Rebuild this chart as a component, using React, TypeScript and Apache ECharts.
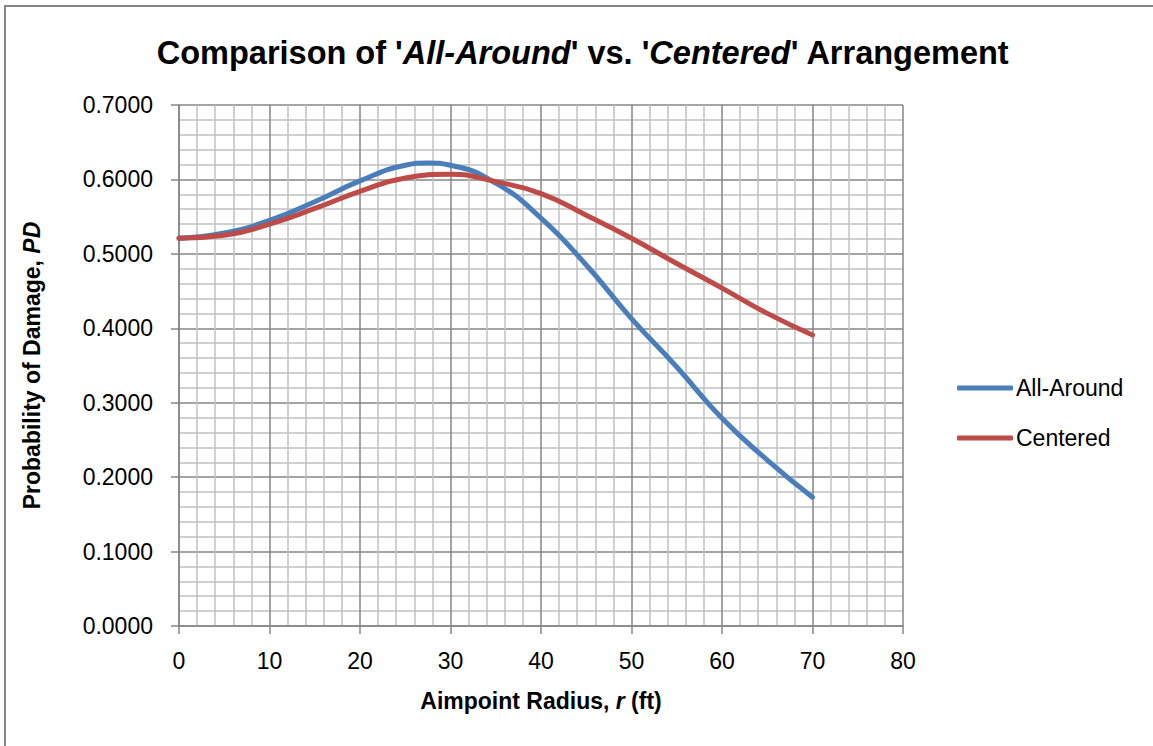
import React, { useEffect, useRef } from "react";
import * as echarts from "echarts";

const radiusA = [0, 5, 10, 15, 20, 25, 27.5, 30, 35, 40, 45, 50, 55, 60, 65, 70];
const allAround = [0.521, 0.528, 0.545, 0.570, 0.598, 0.619, 0.622, 0.619, 0.595, 0.548, 0.485, 0.413, 0.348, 0.279, 0.223, 0.173];
const radiusC = [0, 5, 10, 15, 20, 25, 30, 35, 40, 45, 50, 55, 60, 65, 70];
const centered = [0.521, 0.525, 0.540, 0.561, 0.584, 0.602, 0.607, 0.597, 0.581, 0.552, 0.521, 0.487, 0.454, 0.420, 0.391];
const seriesNames = ["All-Around", "Centered"];
const colors = ["#4a7ebb", "#be4b48"];

const FONT = "Liberation Sans";

export default function App() {
  const ref = useRef<HTMLDivElement>(null);
  useEffect(() => {
    if (!ref.current) return;
    const chart = echarts.init(ref.current, undefined, { renderer: "svg" });
    const toPairs = (xs: number[], vals: number[]) => xs.map((r, i) => [r, vals[i]]);
    chart.setOption({
      animation: false,
      backgroundColor: "#ffffff",
      textStyle: { fontFamily: FONT, color: "#000" },
      graphic: [
        {
          type: "rect",
          shape: { x: 5, y: 6, width: 1170, height: 780 },
          style: { fill: "none", stroke: "#868686", lineWidth: 2 },
          silent: true,
        },
        {
          type: "text",
          x: 583,
          y: 53,
          style: {
            text: "{b|Comparison of '}{bi|All-Around}{b|' vs. '}{bi|Centered}{b|' Arrangement}",
            align: "center",
            verticalAlign: "middle",
            rich: {
              b: { fontFamily: FONT, fontWeight: "bold", fontSize: 32.5, fill: "#000" },
              bi: { fontFamily: FONT, fontWeight: "bold", fontStyle: "italic", fontSize: 32.5, fill: "#000" },
            },
          },
        },
      ],
      legend: {
        orient: "vertical",
        left: 952,
        top: 370,
        itemWidth: 56,
        itemHeight: 5,
        itemGap: 24,
        icon: "roundRect",
        data: seriesNames,
        textStyle: { fontFamily: FONT, fontSize: 23, color: "#000", lineHeight: 26, padding: [0, 0, 0, -2] },
      },
      grid: { left: 179, right: 250, top: 105, bottom: 120, containLabel: false },
      xAxis: {
        type: "value",
        min: 0,
        max: 80,
        interval: 10,
        name: "{b|Aimpoint Radius, }{bi|r}{b| (ft)}",
        nameLocation: "middle",
        nameGap: 63,
        nameTextStyle: {
          rich: {
            b: { fontFamily: FONT, fontWeight: "bold", fontSize: 23, color: "#000" },
            bi: { fontFamily: FONT, fontWeight: "bold", fontStyle: "italic", fontSize: 23, color: "#000" },
          },
        },
        axisLine: { show: true, lineStyle: { color: "#868686", width: 1.5 } },
        axisTick: { show: true, length: 8, lineStyle: { color: "#868686", width: 1.5 } },
        axisLabel: { fontFamily: FONT, fontSize: 23, color: "#000", margin: 23 },
        splitLine: { show: true, lineStyle: { color: "#868686", width: 1.5 } },
        minorTick: { show: false, splitNumber: 5 },
        minorSplitLine: { show: true, lineStyle: { color: "#c0c0c0", width: 1.5 } },
      },
      yAxis: {
        type: "value",
        min: 0,
        max: 0.7,
        interval: 0.1,
        name: "{b|Probability of Damage, }{bi|PD}",
        nameLocation: "middle",
        nameGap: 136,
        nameRotate: 90,
        nameTextStyle: {
          rich: {
            b: { fontFamily: FONT, fontWeight: "bold", fontSize: 23, color: "#000" },
            bi: { fontFamily: FONT, fontWeight: "bold", fontStyle: "italic", fontSize: 23, color: "#000" },
          },
        },
        axisLine: { show: true, lineStyle: { color: "#868686", width: 1.5 } },
        axisTick: { show: true, length: 8, lineStyle: { color: "#868686", width: 1.5 } },
        axisLabel: {
          fontFamily: FONT,
          fontSize: 23,
          color: "#000",
          margin: 26,
          formatter: (v: number) => v.toFixed(4),
        },
        splitLine: { show: true, lineStyle: { color: "#868686", width: 1.5 } },
        minorTick: { show: false, splitNumber: 5 },
        minorSplitLine: { show: true, lineStyle: { color: "#c0c0c0", width: 1.5 } },
      },
      series: [
        {
          name: seriesNames[0],
          type: "line",
          data: toPairs(radiusA, allAround),
          smooth: 0.5,
          symbol: "none",
          color: colors[0],
          lineStyle: { width: 5, color: colors[0], cap: "round" },
          z: 3,
        },
        {
          name: seriesNames[1],
          type: "line",
          data: toPairs(radiusC, centered),
          smooth: 0.5,
          symbol: "none",
          color: colors[1],
          lineStyle: { width: 5, color: colors[1], cap: "round" },
          z: 4,
        },
      ],
    });
    return () => chart.dispose();
  }, []);
  return (
    <div
      ref={ref}
      style={{ position: "fixed", left: 0, top: 0, width: 1153, height: 746, background: "#fff" }}
    />
  );
}
